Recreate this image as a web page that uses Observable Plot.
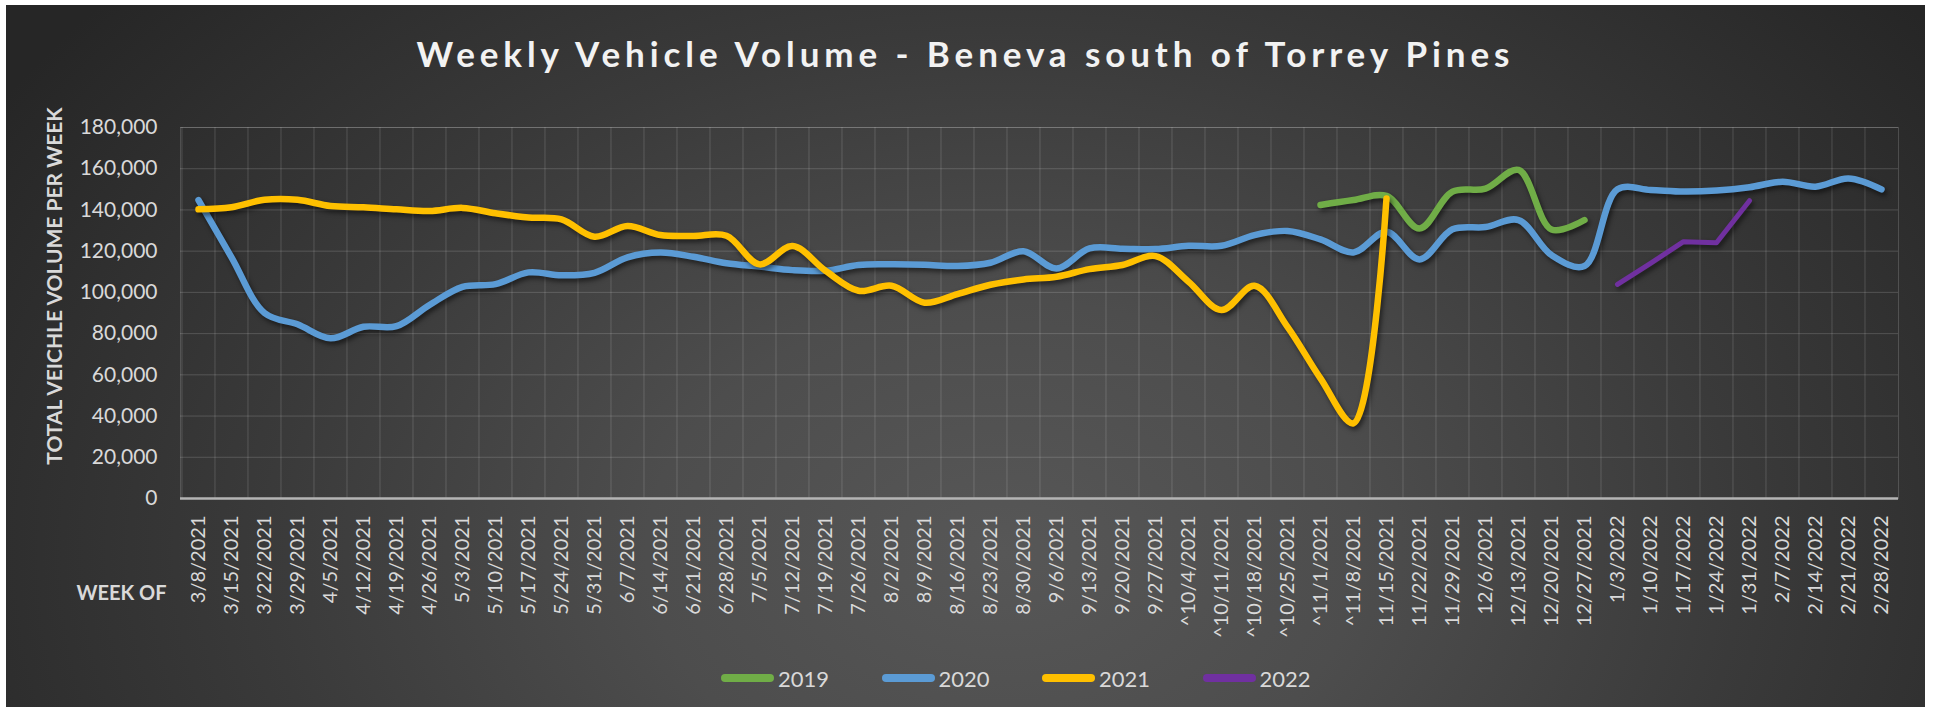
<!DOCTYPE html>
<html>
<head>
<meta charset="utf-8">
<script src="https://cdn.jsdelivr.net/npm/d3@7"></script>
<script src="https://cdn.jsdelivr.net/npm/@observablehq/plot@0.6"></script>
<style>
  html, body { margin: 0; padding: 0; background: #ffffff; }
  body { width: 1933px; height: 715px; position: relative; overflow: hidden; font-family: Lato, "Open Sans", sans-serif; }
  #chart {
    position: absolute; left: 6px; top: 5px; width: 1919px; height: 702px; overflow: hidden;
    background: radial-gradient(ellipse 62% 120% at 52% 78%, #575757 0%, #4d4d4d 30%, #3a3a3a 62%, #262626 100%);
  }
  #title {
    height: 80px; line-height: 96px; text-align: center; color: #f2f2f2;
    font-family: Lato, sans-serif; font-weight: 700; font-size: 35px; letter-spacing: 4.9px; white-space: nowrap;
  }
  #plot { height: 570px; }
  #plot svg { display: block; }
  #legend {
    height: 52px; display: flex; align-items: center; padding-left: 715px; box-sizing: border-box;
    position: relative; top: -3px;
  }
  .item { display: flex; align-items: center; width: 160.5px; flex: none; }
  .swatch { width: 53px; height: 8px; border-radius: 4px; margin-right: 4px; }
  .lbl { color: #d9d9d9; font-size: 22px; font-family: Lato, sans-serif; }
</style>
</head>
<body>
<div id="chart">
  <div id="title">Weekly Vehicle Volume - Beneva south of Torrey Pines</div>
  <div id="plot"></div>
  <div id="legend"></div>
</div>
<script>
// ---- Data ----
const weeks = ["3/8/2021","3/15/2021","3/22/2021","3/29/2021","4/5/2021","4/12/2021","4/19/2021","4/26/2021",
  "5/3/2021","5/10/2021","5/17/2021","5/24/2021","5/31/2021","6/7/2021","6/14/2021","6/21/2021","6/28/2021",
  "7/5/2021","7/12/2021","7/19/2021","7/26/2021","8/2/2021","8/9/2021","8/16/2021","8/23/2021","8/30/2021",
  "9/6/2021","9/13/2021","9/20/2021","9/27/2021","^10/4/2021","^10/11/2021","^10/18/2021","^10/25/2021",
  "^11/1/2021","^11/8/2021","11/15/2021","11/22/2021","11/29/2021","12/6/2021","12/13/2021","12/20/2021",
  "12/27/2021","1/3/2022","1/10/2022","1/17/2022","1/24/2022","1/31/2022","2/7/2022","2/14/2022","2/21/2022","2/28/2022"];

const years = ["2019", "2020", "2021", "2022"];
const colors = ["#70AD47", "#5B9BD5", "#FFC000", "#7030A0"];

// values aligned with weeks; null = no data
const v2019 = [null,null,null,null,null,null,null,null,null,null,null,null,null,null,null,null,null,
  null,null,null,null,null,null,null,null,null,null,null,null,null,null,null,null,null,
  142400,144800,146800,131000,148900,150300,159400,130500,135100,
  null,null,null,null,null,null,null,null,null];

const v2020 = [144800,117000,90000,84500,77700,83300,83600,93900,102700,104000,109700,108300,109500,
  117000,119300,117300,114100,112500,110800,110500,113300,113600,113400,112800,114400,120000,
  111600,121300,121200,121000,122600,122600,127800,129800,125700,119400,129400,116000,130600,
  131700,135100,118100,112800,150000,149700,148900,149400,151000,153700,151300,155300,150000];

const v2021 = [140300,141300,144900,144900,141900,141300,140300,139500,141000,138400,136300,135400,127000,
  132200,127800,127400,127500,113600,122500,110500,100800,103200,95000,99200,103700,106300,
  107600,111300,113300,117600,105200,91400,103200,83300,58300,36500,145600,
  null,null,null,null,null,null,null,null,null,null,null,null,null,null,null];

const v2022 = [null,null,null,null,null,null,null,null,null,null,null,null,null,null,null,null,null,
  null,null,null,null,null,null,null,null,null,null,null,null,null,null,null,null,null,
  null,null,null,null,null,null,null,null,null,
  103900,114100,124600,124100,144500,null,null,null,null];

const yTicks = [0,20000,40000,60000,80000,100000,120000,140000,160000,180000];
const yTitle = "TOTAL VEICHLE VOLUME PER WEEK";
const xTitle = "WEEK OF";
const chartTitle = "Weekly Vehicle Volume - Beneva south of Torrey Pines";

// ---- Build tidy rows ----
const seriesValues = [v2019, v2020, v2021, v2022];
const rows = [];
seriesValues.forEach((vals, s) => {
  vals.forEach((v, i) => { if (v != null) rows.push({week: weeks[i], value: v, year: years[s]}); });
});

const W = 1919, H = 570;
const mL = 174, mR = 27, mT = 42, mB = 157;
const step = (W - mL - mR) / weeks.length;
const gridStyle = {stroke: "#ffffff", strokeOpacity: 0.16, strokeWidth: 1};

const lineMarks = years.map((yr, s) => Plot.line(rows.filter(d => d.year === yr), {
  x: "week", y: "value", stroke: colors[s],
  strokeWidth: yr === "2022" ? 5 : 6.5,
  curve: yr === "2022" ? "linear" : "catmull-rom",
  strokeLinecap: "round", strokeLinejoin: "round"
}));

const chart = Plot.plot({
  width: W, height: H,
  marginLeft: mL, marginRight: mR, marginTop: mT, marginBottom: mB,
  style: {background: "transparent", color: "#d9d9d9", fontFamily: "Lato, sans-serif"},
  x: {type: "point", domain: weeks, padding: 0.5, label: null},
  y: {domain: [0, 180000], label: null},
  marks: [
    Plot.ruleY(yTicks, gridStyle),
    Plot.ruleX(weeks, {x: d => d, dx: -step / 2, ...gridStyle}),
    Plot.frame(gridStyle),
    Plot.ruleY([0], {stroke: "#b4b4b4", strokeWidth: 2.5}),
    Plot.axisY({ticks: yTicks, tickFormat: d3.format(","), tickSize: 0, tickPadding: 23, fontSize: 21, label: null}),
    Plot.axisX({tickRotate: -90, tickSize: 0, tickPadding: 17, fontSize: 20, label: null}),
    Plot.text([yTitle], {frameAnchor: "left", rotate: -90, textAnchor: "middle", lineAnchor: "middle",
      dx: -125, dy: -27, fontWeight: "bold", fontSize: 21, fill: "#d9d9d9"}),
    Plot.text([xTitle], {frameAnchor: "bottom-left", textAnchor: "end", lineAnchor: "middle",
      dx: -14, dy: 95, fontWeight: "bold", fontSize: 20, fill: "#d9d9d9"}),
    ...lineMarks
  ]
});

d3.select(chart).selectAll('g[aria-label="line"]').style("filter", "drop-shadow(2px 3px 2.5px rgba(0,0,0,0.55))");
document.getElementById("plot").appendChild(chart);
document.getElementById("title").textContent = chartTitle;

// legend
const legend = d3.select("#legend");
years.forEach((yr, s) => {
  const it = legend.append("div").attr("class", "item");
  it.append("div").attr("class", "swatch").style("background", colors[s]);
  it.append("div").attr("class", "lbl").text(yr);
});
</script>
</body>
</html>
